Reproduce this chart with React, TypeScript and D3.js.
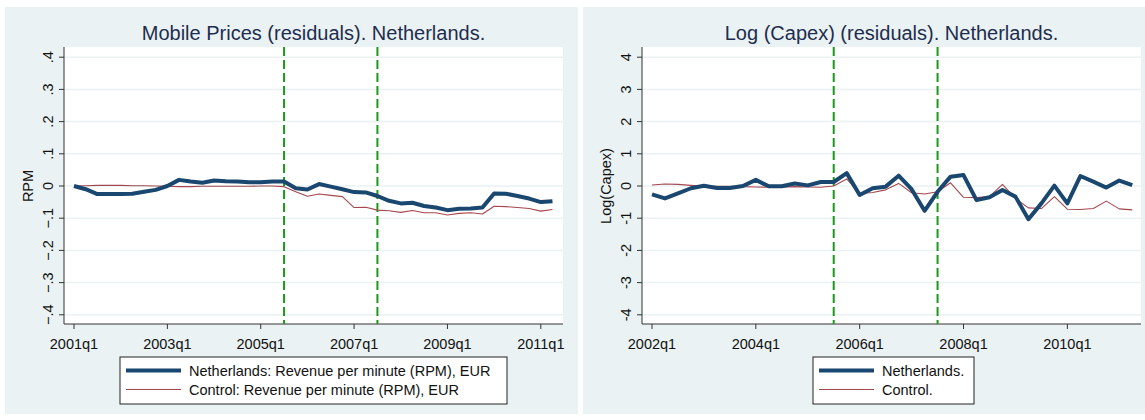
import React from 'react';
import * as d3 from 'd3';

// Mobile prices (RPM) residuals, 2001q1 .. 2011q2
const rpmStart = 2001;
const rpmNetherlands = [
  0, -0.01, -0.025, -0.025, -0.025, -0.024, -0.018, -0.012, 0, 0.019,
  0.014, 0.01, 0.017, 0.015, 0.014, 0.012, 0.012, 0.014, 0.014, -0.007,
  -0.011, 0.006, -0.002, -0.01, -0.019, -0.02, -0.031, -0.046, -0.054, -0.052,
  -0.062, -0.067, -0.075, -0.071, -0.07, -0.067, -0.023, -0.024, -0.031, -0.039,
  -0.05, -0.047,
];
const rpmControl = [
  0, 0.001, 0.002, 0.002, 0.002, 0.001, 0.001, 0, -0.001, -0.002,
  -0.002, -0.001, -0.001, -0.001, -0.001, -0.001, 0, 0, -0.002, -0.018,
  -0.032, -0.025, -0.029, -0.033, -0.067, -0.066, -0.075, -0.077, -0.082, -0.076,
  -0.083, -0.083, -0.09, -0.085, -0.083, -0.087, -0.063, -0.064, -0.067, -0.07,
  -0.078, -0.073,
];
const rpmTicksY = [-0.4, -0.3, -0.2, -0.1, 0, 0.1, 0.2, 0.3, 0.4];

// Log(Capex) residuals, 2002q1 .. 2011q2
const capexStart = 2002;
const capexNetherlands = [
  -0.26, -0.385, -0.23, -0.07, 0.01, -0.06, -0.06, 0, 0.19, -0.01,
  -0.01, 0.08, 0.02, 0.125, 0.125, 0.4, -0.28, -0.07, -0.02, 0.32,
  -0.1, -0.77, -0.18, 0.29, 0.34, -0.44, -0.35, -0.125, -0.33, -1.03,
  -0.54, 0.01, -0.54, 0.31, 0.135, -0.05, 0.17, 0.03,
];
const capexControl = [
  0.03, 0.06, 0.05, 0.02, -0.01, -0.01, -0.01, -0.02, -0.03, -0.04,
  -0.04, -0.02, -0.03, -0.04, 0, 0.22, -0.23, -0.2, -0.12, 0.08,
  -0.21, -0.25, -0.18, 0.1, -0.35, -0.36, -0.33, 0.05, -0.39, -0.68,
  -0.7, -0.33, -0.72, -0.73, -0.7, -0.47, -0.71, -0.74,
];
const capexTicksY = [-4, -3, -2, -1, 0, 1, 2, 3, 4];

// treatment dates
const eventQuarters = ['2005q3', '2007q3'];

const FONT = '"Liberation Sans", Arial, sans-serif';
const BG = '#eaf2f3';
const NAVY = '#1a476f';
const MAROON = '#a5474f';
const GREEN = '#1a9a1a';

type PanelProps = {
  left: number;
  width: number;
  title: string;
  yTitle: string;
  startYear: number;
  nl: number[];
  ctrl: number[];
  yTicks: number[];
  yFmt: (v: number) => string;
  plot: { x0: number; x1: number; first: number; step: number };
  legend: { x0: number; x1: number; labels: string[] };
};

const qIndex = (label: string, startYear: number) => {
  const [y, q] = label.split('q').map(Number);
  return (y - startYear) * 4 + (q - 1);
};

const Panel = ({ left, width, title, yTitle, startYear, nl, ctrl, yTicks, yFmt, plot, legend }: PanelProps) => {
  const top = 47;
  const bottom = 324;
  const n = nl.length;
  const x = d3.scaleLinear().domain([0, n - 1]).range([plot.first, plot.first + plot.step * (n - 1)]);
  const y = d3.scaleLinear().domain([yTicks[0], yTicks[yTicks.length - 1]]).range([314.8, 57.2]);
  const line = d3.line<number>().x((_, i) => x(i)).y(d => y(d));
  const xTicks = d3.range(0, n, 8);
  const mid = (plot.x0 + plot.x1) / 2;

  return (
    <g>
      <rect x={left} y={7} width={width} height={407} fill={BG} />
      <text x={mid} y={40} textAnchor="middle" fontSize={20} fill="#1e2d4f">{title}</text>
      <rect x={plot.x0} y={top} width={plot.x1 - plot.x0} height={bottom - top} fill="#fff" />
      {yTicks.map(t => (
        <g key={t}>
          <line x1={plot.x0} x2={plot.x1} y1={y(t)} y2={y(t)} stroke={BG} strokeWidth={1.5} />
          <line x1={plot.x0 - 5} x2={plot.x0} y1={y(t)} y2={y(t)} stroke="#333" />
          <text transform={`translate(${plot.x0 - 11},${y(t)}) rotate(-90)`} textAnchor="middle" fontSize={14.5} fill="#111">{yFmt(t)}</text>
        </g>
      ))}
      <text transform={`translate(${plot.x0 - 31},186) rotate(-90)`} textAnchor="middle" fontSize={14.5} fill="#111">{yTitle}</text>
      <line x1={plot.x0} x2={plot.x0} y1={top} y2={bottom} stroke="#333" />
      <line x1={plot.x0} x2={plot.x1} y1={bottom} y2={bottom} stroke="#333" />
      {xTicks.map(i => (
        <g key={i}>
          <line x1={x(i)} x2={x(i)} y1={bottom} y2={bottom + 5} stroke="#333" />
          <text x={x(i)} y={348.5} textAnchor="middle" fontSize={14.5} fill="#111">{`${startYear + i / 4}q1`}</text>
        </g>
      ))}
      {eventQuarters.map(q => (
        <line key={q} x1={x(qIndex(q, startYear))} x2={x(qIndex(q, startYear))} y1={top} y2={bottom}
          stroke={GREEN} strokeWidth={2} strokeDasharray="9,4" />
      ))}
      <path d={line(ctrl) || ''} fill="none" stroke={MAROON} strokeWidth={1.1} strokeLinejoin="round" />
      <path d={line(nl) || ''} fill="none" stroke={NAVY} strokeWidth={4} strokeLinejoin="round" />
      <rect x={legend.x0} y={357} width={legend.x1 - legend.x0} height={47} fill="#fff" stroke="#222" />
      <line x1={legend.x0 + 6} x2={legend.x0 + 61} y1={370.5} y2={370.5} stroke={NAVY} strokeWidth={4} />
      <line x1={legend.x0 + 6} x2={legend.x0 + 61} y1={389.5} y2={389.5} stroke={MAROON} strokeWidth={1.1} />
      <text x={legend.x0 + 69} y={375.5} fontSize={14.5} fill="#111">{legend.labels[0]}</text>
      <text x={legend.x0 + 69} y={394.5} fontSize={14.5} fill="#111">{legend.labels[1]}</text>
    </g>
  );
};

const App = () => (
  <svg width={1145} height={420} style={{ position: 'absolute', left: 0, top: 0, background: '#fff', fontFamily: FONT }}>
    <Panel
      left={5}
      width={573}
      title="Mobile Prices (residuals). Netherlands."
      yTitle="RPM"
      startYear={rpmStart}
      nl={rpmNetherlands}
      ctrl={rpmControl}
      yTicks={rpmTicksY}
      yFmt={v => (v === 0 ? '0' : d3.format('.1f')(v).replace('0.', '.'))}
      plot={{ x0: 64, x1: 563, first: 74, step: 11.67 }}
      legend={{ x0: 120, x1: 507, labels: ['Netherlands: Revenue per minute (RPM), EUR', 'Control: Revenue per minute (RPM), EUR'] }}
    />
    <Panel
      left={583}
      width={562}
      title="Log (Capex) (residuals). Netherlands."
      yTitle="Log(Capex)"
      startYear={capexStart}
      nl={capexNetherlands}
      ctrl={capexControl}
      yTicks={capexTicksY}
      yFmt={v => String(v)}
      plot={{ x0: 642, x1: 1141, first: 652, step: 12.98 }}
      legend={{ x0: 813, x1: 974, labels: ['Netherlands.', 'Control.'] }}
    />
  </svg>
);

export default App;
